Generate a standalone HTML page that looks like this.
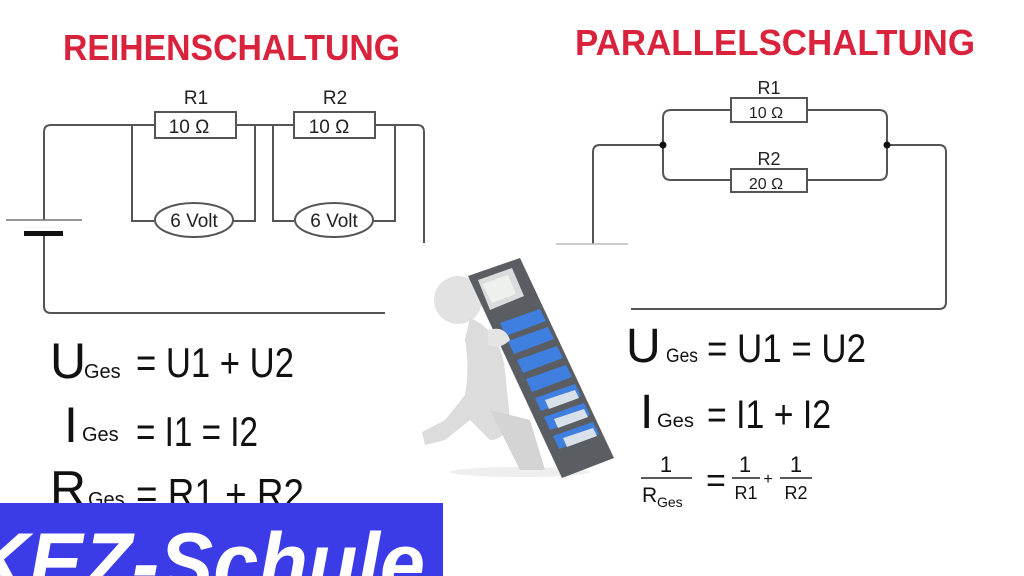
<!DOCTYPE html>
<html><head><meta charset="utf-8"><style>
html,body{margin:0;padding:0;background:#fff;width:1024px;height:576px;overflow:hidden;}
svg{display:block;}
</style></head><body>
<svg width="1024" height="576" viewBox="0 0 1024 576" xmlns="http://www.w3.org/2000/svg" font-family="Liberation Sans, sans-serif" overflow="hidden">
<rect width="1024" height="576" fill="#fff"/>
<text x="63" y="60" font-size="36" font-weight="bold" fill="#d9223c" textLength="337" lengthAdjust="spacingAndGlyphs">REIHENSCHALTUNG</text>
<text x="575" y="55" font-size="36" font-weight="bold" fill="#d9223c" textLength="400" lengthAdjust="spacingAndGlyphs">PARALLELSCHALTUNG</text>

<g fill="none" stroke="#555" stroke-width="2">
<path d="M44 220 V132 Q44 125 51 125 H155"/>
<path d="M236 125 H294"/>
<path d="M375 125 H417 Q424 125 424 132 V243"/>
<path d="M44 235 V306 Q44 313 51 313 H385"/>
<path d="M132 125 V221 H154"/>
<path d="M233 221 H255 V125"/>
<path d="M273 125 V221 H294"/>
<path d="M373 221 H395 V125"/>
<rect x="155" y="112" width="81" height="26" fill="#fff"/>
<rect x="294" y="112" width="81" height="26" fill="#fff"/>
<ellipse cx="194" cy="220" rx="39" ry="17" fill="#fff"/>
<ellipse cx="334" cy="220" rx="39" ry="17" fill="#fff"/>
</g>
<line x1="6" y1="220" x2="82" y2="220" stroke="#777" stroke-width="1.5"/>
<rect x="24" y="231" width="39" height="5" fill="#111"/>
<g font-size="19" fill="#222" text-anchor="middle">
<text x="196" y="104">R1</text>
<text x="335" y="104">R2</text>
<text x="189" y="133">10 Ω</text>
<text x="329" y="133">10 Ω</text>
<text x="194" y="227">6 Volt</text>
<text x="334" y="227">6 Volt</text>
</g>

<g fill="none" stroke="#555" stroke-width="2">
<path d="M731 110 H671 Q663 110 663 118 V172 Q663 180 671 180 H731"/>
<path d="M807 110 H879 Q887 110 887 118 V172 Q887 180 879 180 H807"/>
<path d="M663 145 H600 Q593 145 593 152 V244"/>
<path d="M887 145 H939 Q946 145 946 152 V302 Q946 309 939 309 H631"/>
<rect x="731" y="98" width="76" height="24" fill="#fff"/>
<rect x="731" y="169" width="76" height="23" fill="#fff"/>
</g>
<line x1="556" y1="244" x2="628" y2="244" stroke="#bbb" stroke-width="1.5"/>
<circle cx="663" cy="145" r="3.5" fill="#111"/>
<circle cx="887" cy="145" r="3.5" fill="#111"/>
<g font-size="18" fill="#222" text-anchor="middle">
<text x="769" y="94">R1</text>
<text x="769" y="165">R2</text>
<text x="766" y="118" font-size="16">10 Ω</text>
<text x="766" y="189" font-size="16">20 Ω</text>
</g>

<g fill="#111">
<text x="50" y="378" font-size="50">U</text>
<text x="84" y="378" font-size="20">Ges</text>
<text x="136" y="377" font-size="42" textLength="158" lengthAdjust="spacingAndGlyphs">= U1 + U2</text>
<text x="64" y="442" font-size="50">I</text>
<text x="82" y="441" font-size="20">Ges</text>
<text x="136" y="446" font-size="42" textLength="122" lengthAdjust="spacingAndGlyphs">= I1 = I2</text>
<text x="50" y="506" font-size="50">R</text>
<text x="88" y="506" font-size="20">Ges</text>
<text x="136" y="508" font-size="42" textLength="168" lengthAdjust="spacingAndGlyphs">= R1 + R2</text>
</g>
<g fill="#111">
<text x="626" y="362" font-size="48">U</text>
<text x="666" y="362" font-size="19" textLength="32" lengthAdjust="spacingAndGlyphs">Ges</text>
<text x="707" y="362" font-size="40" textLength="159" lengthAdjust="spacingAndGlyphs">= U1 = U2</text>
<text x="640" y="428" font-size="48">I</text>
<text x="657" y="427" font-size="19" textLength="37" lengthAdjust="spacingAndGlyphs">Ges</text>
<text x="707" y="428" font-size="40" textLength="124" lengthAdjust="spacingAndGlyphs">= I1 + I2</text>
<text x="666" y="472" font-size="22" text-anchor="middle">1</text>
<line x1="641" y1="478" x2="692" y2="478" stroke="#222" stroke-width="1.5"/>
<text x="642" y="502" font-size="21">R</text>
<text x="657" y="507" font-size="14">Ges</text>
<text x="706" y="492" font-size="34">=</text>
<text x="745" y="472" font-size="22" text-anchor="middle">1</text>
<line x1="732" y1="478" x2="760" y2="478" stroke="#222" stroke-width="1.5"/>
<text x="746" y="499" font-size="18" text-anchor="middle">R1</text>
<text x="768" y="484" font-size="16" text-anchor="middle">+</text>
<text x="796" y="472" font-size="22" text-anchor="middle">1</text>
<line x1="780" y1="478" x2="812" y2="478" stroke="#222" stroke-width="1.5"/>
<text x="796" y="499" font-size="18" text-anchor="middle">R2</text>
</g>

<g>
<ellipse cx="520" cy="472" rx="70" ry="5" fill="#eee"/>
<circle cx="458" cy="300" r="24" fill="#e2e2e2"/>
<path d="M470 318 Q500 330 505 370 L510 420 Q505 440 490 440 L470 420 L445 440 L425 445 L422 432 L445 420 L465 395 Q470 370 465 340 Z" fill="#dcdcdc"/>
<path d="M490 410 L520 470 L545 470 L530 420 Z" fill="#d4d4d4"/>
<polygon points="468,276 520,258 614,458 562,478" fill="#5a5d62"/>
<polygon points="478,280 512,268 524,296 490,310" fill="#d9dcdc"/>
<polygon points="482,284 508,275 516,294 492,303" fill="#eef0ee"/>
<g fill="#3f7fe0">
<polygon points="500,323 540,309 546,321 506,336"/>
<polygon points="508,341 548,327 554,339 514,354"/>
<polygon points="517,360 557,346 563,358 523,373"/>
<polygon points="526,379 566,365 572,377 532,392"/>
<polygon points="535,398 575,384 581,396 541,411"/>
<polygon points="544,417 584,403 590,415 550,430"/>
<polygon points="553,436 593,422 599,434 559,449"/>
</g>
<g fill="#d8e0ea">
<polygon points="545,400 575,390 579,398 549,409"/>
<polygon points="554,419 584,409 588,417 558,428"/>
<polygon points="563,438 593,428 597,436 567,447"/>
</g>
<path d="M488 330 Q505 325 510 340 Q500 350 488 345 Z" fill="#e4e4e4"/>
</g>

<rect x="0" y="503" width="443" height="73" fill="#3b3be8"/>
<svg x="0" y="503" width="443" height="73" overflow="hidden">
<text x="-30" y="90" font-size="86" font-weight="bold" font-style="italic" fill="#fff" textLength="455" lengthAdjust="spacingAndGlyphs">KEZ-Schule</text>
</svg>
</svg>
</body></html>
